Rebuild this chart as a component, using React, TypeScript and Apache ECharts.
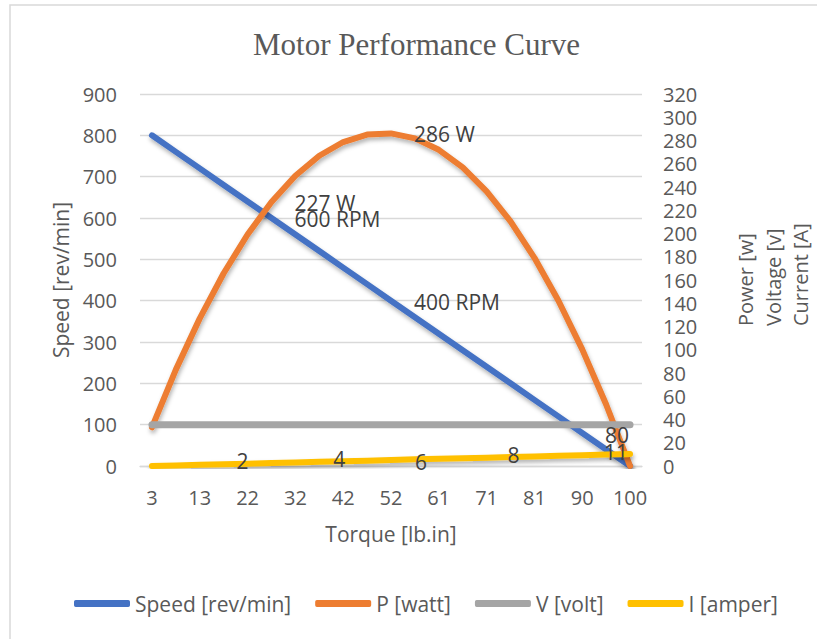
import React, { useEffect, useRef } from "react";
import * as echarts from "echarts";

// ---- data ----
const torqueLabels = ["3", "8", "13", "18", "22", "27", "32", "37", "42", "47", "52", "56", "61", "66", "71", "76", "81", "85", "90", "95", "100"];
const speedRpm = [800, 760, 720, 680, 640, 600, 560, 520, 480, 440, 400, 360, 320, 280, 240, 200, 160, 120, 80, 40, 0];
const powerW = [33.3, 82.9, 127.0, 165.8, 199.1, 227.1, 249.7, 266.9, 278.7, 285.1, 286.1, 281.8, 272.0, 256.9, 236.3, 210.4, 179.1, 142.4, 100.3, 52.9, 0];
const voltageV = [100, 100, 100, 100, 100, 100, 100, 100, 100, 100, 100, 100, 100, 100, 100, 100, 100, 100, 100, 100, 100];
const currentA = [0, 0.5, 1.0, 1.5, 2.0, 2.6, 3.1, 3.6, 4.1, 4.6, 5.1, 5.7, 6.2, 6.7, 7.2, 7.7, 8.2, 8.8, 9.3, 9.8, 10.3];

const seriesNames = ["Speed [rev/min]", "P [watt]", "V [volt]", "I [amper]"];
const leftTicks = { min: 0, max: 900, interval: 100 };
const rightTicks = { min: 0, max: 320, interval: 20 };

const speedLabelIdx = [5, 10];
const speedLabelText = ["600 RPM", "400 RPM"];
const powerLabelIdx = [5, 10];
const powerLabelText = ["227 W", "286 W"];
const currentLabelIdx = [4, 8, 11, 15, 20];
const currentLabelText = ["2", "4", "6", "8", "11"];
const voltageLabelIdx = [20];
const voltageLabelText = ["80"];

const rightAxisTitles = ["Power [w]", "Voltage [v]", "Current [A]"];

const TEXT = "#595959";
const LABEL = "#404040";
const FONT = "Open Sans";

function withLabels(
  values: number[],
  idxs: number[],
  texts: string[],
  labelBase: any,
  offsets?: number[][]
) {
  return values.map((v, i) => {
    const k = idxs.indexOf(i);
    if (k < 0) return v;
    return {
      value: v,
      symbol: "circle",
      symbolSize: 2,
      itemStyle: { color: "rgba(0,0,0,0)", borderWidth: 0 },
      label: {
        show: true,
        formatter: texts[k],
        offset: offsets ? offsets[k] : [0, 0],
        ...labelBase,
      },
    };
  });
}

export default function App() {
  const ref = useRef<HTMLDivElement>(null);

  useEffect(() => {
    if (!ref.current) return;
    const chart = echarts.init(ref.current, undefined, { renderer: "svg" });

    const rightLabel = {
      position: "right",
      distance: 22,
      fontSize: 21,
      lineHeight: 18,
      color: LABEL,
      fontFamily: FONT,
    };
    const insideLabel = {
      position: "inside",
      fontSize: 21,
      lineHeight: 18,
      color: LABEL,
      fontFamily: FONT,
    };
    const shadow = {
      shadowColor: "rgba(0,0,0,0.3)",
      shadowBlur: 4,
      shadowOffsetX: 1,
      shadowOffsetY: 3,
    };

    const lineBase = (color: string, width: number, withShadow = true) => ({
      type: "line",
      color,
      symbol: "none",
      showSymbol: true,
      showAllSymbol: true,
      smooth: false,
      silent: true,
      lineStyle: { color, width, cap: "round", join: "round", ...(withShadow ? shadow : {}) },
      emphasis: { disabled: true },
    });

    const option: any = {
      animation: false,
      backgroundColor: "#ffffff",
      textStyle: { fontFamily: FONT, color: TEXT },
      title: {
        text: "Motor Performance Curve",
        left: 253,
        top: 29,
        padding: 0,
        textStyle: {
          fontFamily: "Liberation Serif",
          fontSize: 31,
          fontWeight: "normal",
          color: TEXT,
        },
      },
      legend: {
        data: seriesNames,
        left: 74,
        top: 593,
        padding: 0,
        icon: "roundRect",
        itemWidth: 56,
        itemHeight: 7,
        itemGap: 24,
        textStyle: { fontSize: 21, color: TEXT, fontFamily: FONT },
      },
      grid: { left: 140, right: 175, top: 94, bottom: 173, containLabel: false },
      xAxis: {
        type: "category",
        data: torqueLabels,
        boundaryGap: true,
        axisLine: { show: true, lineStyle: { color: "#D9D9D9", width: 1.3 } },
        axisTick: { show: false },
        axisLabel: { interval: 1, margin: 21, fontSize: 20, color: TEXT, fontFamily: FONT },
        splitLine: { show: false },
        name: "Torque [lb.in]",
        nameLocation: "middle",
        nameGap: 57,
        nameTextStyle: { fontSize: 21, color: TEXT, fontFamily: FONT },
      },
      yAxis: [
        {
          type: "value",
          position: "left",
          ...leftTicks,
          axisLine: { show: false },
          axisTick: { show: false },
          axisLabel: { margin: 23, fontSize: 20, lineHeight: 20, color: TEXT, fontFamily: FONT },
          splitLine: { show: true, lineStyle: { color: "#D9D9D9", width: 1.3 } },
          name: "Speed [rev/min]",
          nameLocation: "middle",
          nameRotate: 90,
          nameGap: 69,
          nameTextStyle: { fontSize: 21, color: TEXT, fontFamily: FONT },
        },
        {
          type: "value",
          position: "right",
          ...rightTicks,
          axisLine: { show: false },
          axisTick: { show: false },
          axisLabel: { margin: 21, fontSize: 20, lineHeight: 18, color: TEXT, fontFamily: FONT },
          splitLine: { show: false },
        },
      ],
      graphic: [
        {
          type: "rect",
          z: -10,
          silent: true,
          shape: { x: 10, y: 5, width: 1000, height: 1000 },
          style: { fill: "none", stroke: "#D9D9D9", lineWidth: 1.5 },
        },
        ...rightAxisTitles.map((t, i) => ({
          type: "text",
          x: [745, 773, 800][i],
          y: 326,
          rotation: Math.PI / 2,
          silent: true,
          style: {
            text: t,
            fontSize: 20,
            fontFamily: FONT,
            fill: TEXT,
            align: "left",
            verticalAlign: "middle",
          },
        })),
      ],
      series: [
        {
          ...lineBase("#4472C4", 6),
          name: seriesNames[0],
          yAxisIndex: 0,
          data: withLabels(speedRpm, speedLabelIdx, speedLabelText, rightLabel, [[0, 1], [0, 1]]),
        },
        {
          ...lineBase("#ED7D31", 6),
          name: seriesNames[1],
          yAxisIndex: 1,
          data: withLabels(powerW, powerLabelIdx, powerLabelText, rightLabel, [[0, 1], [0, 1]]),
        },
        {
          ...lineBase("#A5A5A5", 7, false),
          name: seriesNames[2],
          yAxisIndex: 0,
          data: withLabels(voltageV, voltageLabelIdx, voltageLabelText, insideLabel, [[-13, 10]]),
        },
        {
          ...lineBase("#FFC000", 6),
          name: seriesNames[3],
          yAxisIndex: 1,
          data: withLabels(currentA, currentLabelIdx, currentLabelText, insideLabel, [
            [-5, -3],
            [-4, -2],
            [6, 3],
            [3, -2],
            [-14, -2],
          ]),
        },
      ],
    };

    chart.setOption(option);
    return () => chart.dispose();
  }, []);

  return (
    <div
      ref={ref}
      style={{ position: "fixed", left: 0, top: 0, width: 817, height: 639, background: "#fff" }}
    />
  );
}
